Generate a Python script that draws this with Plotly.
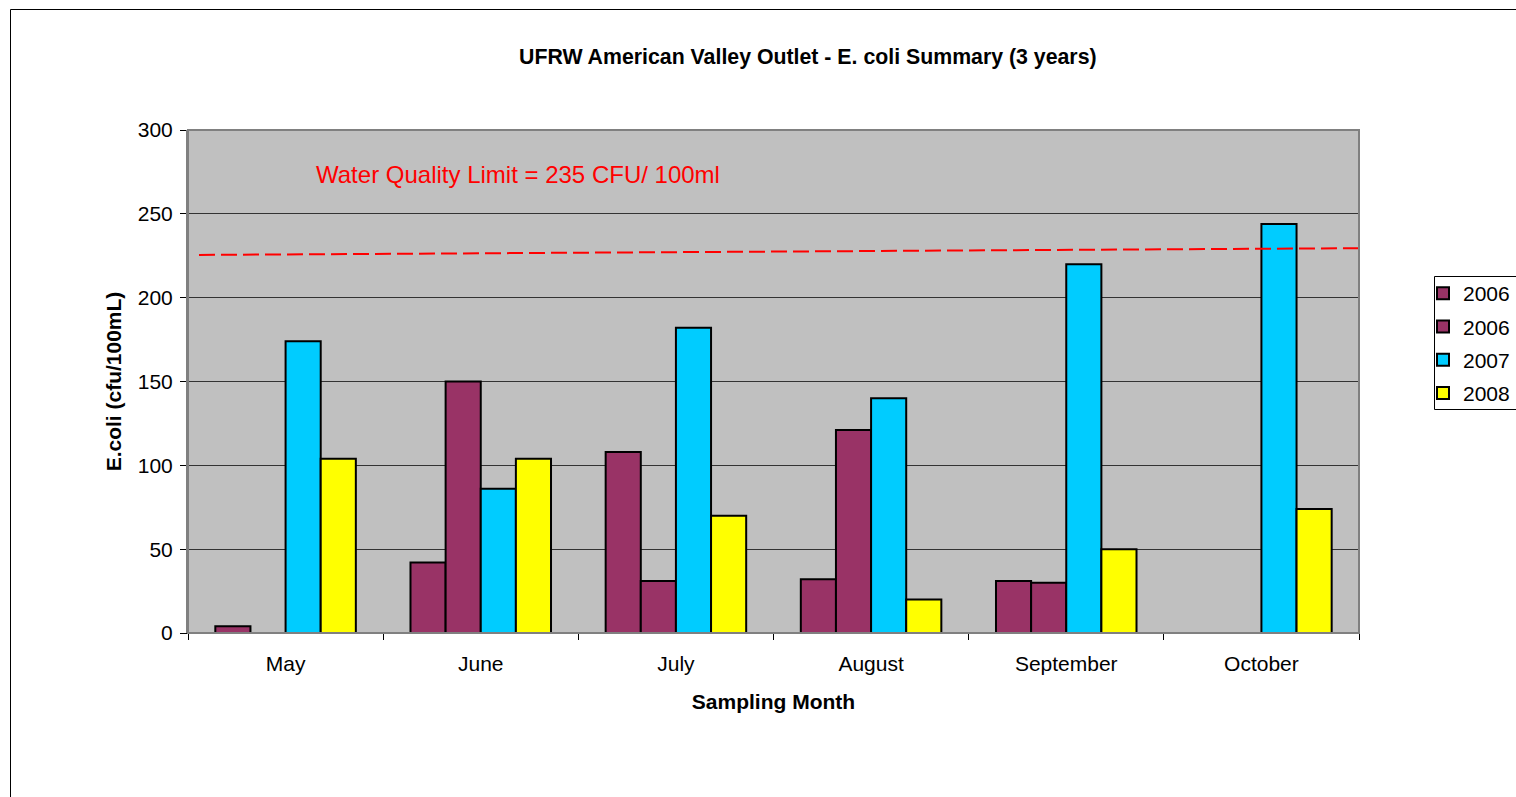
import plotly.graph_objects as go

months = ["May", "June", "July", "August", "September", "October"]
series_names = ["2006", "2006", "2007", "2008"]
vals_2006a = [4, 42, 108, 32, 31, None]
vals_2006b = [None, 150, 31, 121, 30, None]
vals_2007 = [174, 86, 182, 140, 220, 244]
vals_2008 = [104, 104, 70, 20, 50, 74]
limit_line = [225.5, 229.5]  # dashed line: left and right end values
y_ticks = [0, 50, 100, 150, 200, 250, 300]

colors = ["#993366", "#993366", "#00CCFF", "#FFFF00"]
series = [vals_2006a, vals_2006b, vals_2007, vals_2008]

W, H = 1516, 797
L, R, T, B = 188, 1359, 130, 633

fig = go.Figure()
for i, (name, vals, c) in enumerate(zip(series_names, series, colors)):
    fig.add_trace(go.Bar(
        x=months, y=vals, name=name, legendgroup=f"g{i}",
        marker=dict(color=c, line=dict(color="black", width=2)),
    ))

def px_x(px):
    return (px - L) / (R - L)

def px_y(py):
    return (B - py) / (B - T)

shapes = [
    # dashed water-quality line
    dict(type="line", xref="paper", yref="y", x0=px_x(199), x1=1,
         y0=limit_line[0], y1=limit_line[1],
         line=dict(color="#FF0000", width=2, dash="16px,6px"), layer="above"),
    # outer chart border
    dict(type="rect", xref="paper", yref="paper",
         x0=px_x(10.5), x1=px_x(1540), y0=px_y(820), y1=px_y(9.5),
         line=dict(color="black", width=1), layer="below"),
    # legend box
    dict(type="rect", xref="paper", yref="paper",
         x0=px_x(1434.5), x1=px_x(1540), y0=px_y(409.5), y1=px_y(276.5),
         line=dict(color="black", width=1), layer="below"),
]

fig.update_layout(
    width=W, height=H,
    margin=dict(l=L, r=W - R, t=T, b=H - B, autoexpand=False),
    paper_bgcolor="white",
    plot_bgcolor="#C0C0C0",
    barmode="group", bargap=0.28, bargroupgap=0,
    font=dict(family="Liberation Sans, Arial, sans-serif", color="black"),
    shapes=shapes,
    showlegend=True,
    legend=dict(x=px_x(1423), y=px_y(273), xanchor="left", yanchor="top",
                borderwidth=0, bgcolor="rgba(0,0,0,0)",
                font=dict(size=21), tracegroupgap=3, itemwidth=30,
                traceorder="grouped"),
    annotations=[
        dict(text="<b>UFRW American Valley Outlet - E. coli Summary (3 years)</b>",
             xref="paper", yref="paper", x=px_x(808), y=px_y(57),
             xanchor="center", yanchor="middle", showarrow=False,
             font=dict(size=21.3)),
        dict(text="Water Quality Limit = 235 CFU/ 100ml",
             xref="paper", yref="paper", x=px_x(314), y=px_y(174),
             xanchor="left", yanchor="middle", showarrow=False,
             font=dict(size=24, color="#FF0000")),
    ],
    xaxis=dict(
        title=dict(text="<b>Sampling Month</b>", font=dict(size=21), standoff=20),
        tickfont=dict(size=21),
        showline=True, linecolor="black", linewidth=1,
        ticks="outside", tickson="boundaries", ticklen=6, tickcolor="black",
        ticklabelstandoff=12,
        showgrid=False, mirror=False,
    ),
    yaxis=dict(
        title=dict(text="<b>E.coli (cfu/100mL)</b>", font=dict(size=21), standoff=10),
        range=[0, 300], tickvals=y_ticks, tickfont=dict(size=21),
        showline=True, linecolor="#808080", linewidth=2,
        ticks="outside", ticklen=6, tickcolor="black",
        ticklabelstandoff=3,
        showgrid=True, gridcolor="#333333", gridwidth=1,
        zeroline=False,
    ),
)

# plot area border
fig.add_shape(type="rect", xref="paper", yref="paper", x0=0, x1=1, y0=0, y1=1,
              line=dict(color="#808080", width=2), layer="above")

fig.write_html(
    "out.html",
    config={"displayModeBar": False},
    post_script="document.body.style.margin='0';document.body.style.overflow='hidden';",
)
